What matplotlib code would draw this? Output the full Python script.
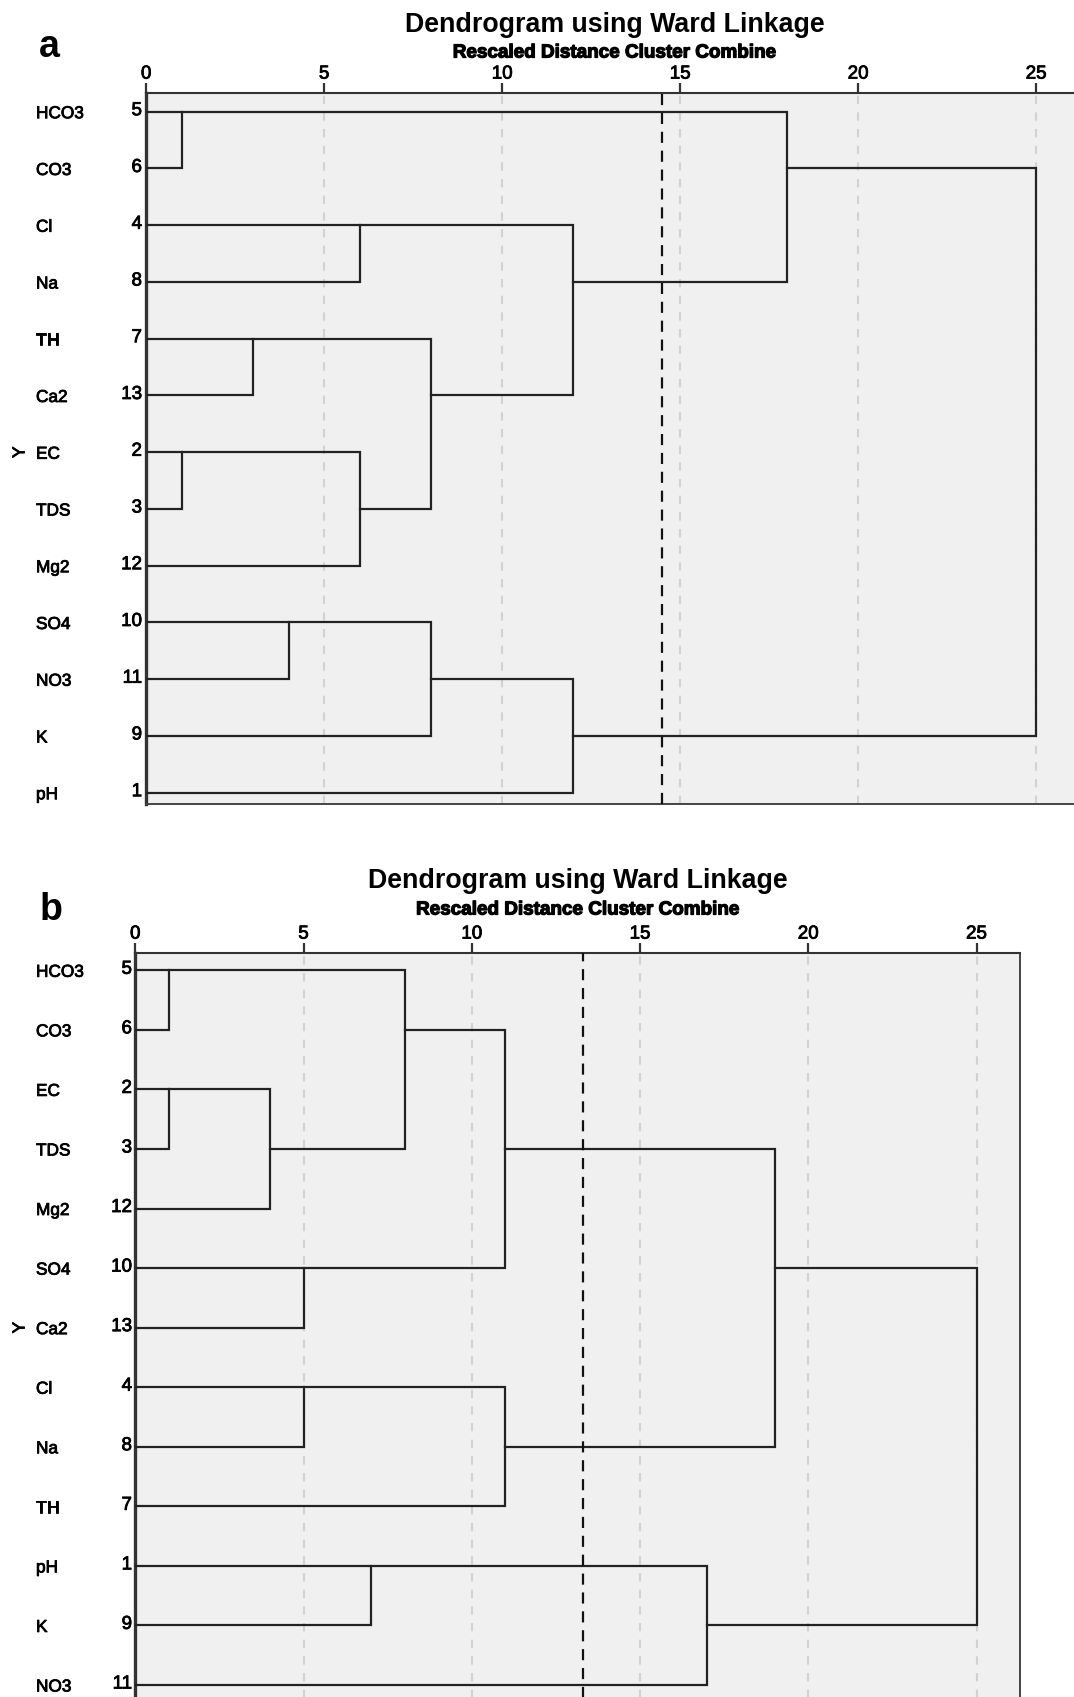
import numpy as np
import matplotlib
matplotlib.use('Agg')
import matplotlib.pyplot as plt
import matplotlib.patheffects as pe

plt.rcParams['font.family'] = ['Liberation Sans', 'DejaVu Sans']

# %% Data
# panel a: leaf order top to bottom, case numbers, merges (child, child, distance)
labels_a = ['HCO3', 'CO3', 'Cl', 'Na', 'TH', 'Ca2', 'EC', 'TDS', 'Mg2', 'SO4', 'NO3', 'K', 'pH']
ids_a = [5, 6, 4, 8, 7, 13, 2, 3, 12, 10, 11, 9, 1]
merges_a = [(0, 1, 1.0), (2, 3, 6.0), (4, 5, 3.0), (6, 7, 1.0), (16, 8, 6.0), (15, 17, 8.0),
            (14, 18, 12.0), (13, 19, 18.0), (9, 10, 4.0), (21, 11, 8.0), (22, 12, 12.0),
            (20, 23, 25.0)]
cut_a = 14.5

# panel b
labels_b = ['HCO3', 'CO3', 'EC', 'TDS', 'Mg2', 'SO4', 'Ca2', 'Cl', 'Na', 'TH', 'pH', 'K', 'NO3']
ids_b = [5, 6, 2, 3, 12, 10, 13, 4, 8, 7, 1, 9, 11]
merges_b = [(0, 1, 1.0), (2, 3, 1.0), (14, 4, 4.0), (13, 15, 8.0), (5, 6, 5.0), (16, 17, 11.0),
            (7, 8, 5.0), (19, 9, 11.0), (18, 20, 19.0), (10, 11, 7.0), (22, 12, 17.0),
            (21, 23, 25.0)]
cut_b = 13.3

ticks = [0, 5, 10, 15, 20, 25]

W, H = 1074, 1697
fig = plt.figure(figsize=(W / 100, H / 100), dpi=100)

# slightly heavier strokes on the regular text, like the scanned SPSS output
thick = [pe.withStroke(linewidth=0.6, foreground='black')]
thick_b = [pe.withStroke(linewidth=0.9, foreground='black')]


def fpos(x, y):
    return x / W, 1 - y / H


def draw_panel(left, top, unit, row_h, xmax, ytop, ybot, labels, ids, merges, cut,
               letter, letter_xy, title_y, sub_y, lab_x, num_x):
    n = len(labels)
    width = xmax * unit
    height = (ybot - ytop) * row_h
    axtop = top
    ax = fig.add_axes([left / W, 1 - (axtop + height) / H, width / W, height / H])
    ax.set_facecolor('#f0f0f0')
    ax.set_xlim(0, xmax)
    ax.set_ylim(ybot, ytop)

    # dashed reference grid
    for t in ticks[1:]:
        ax.axvline(t, color='#d2d2d2', lw=1.5, ls=(0, (4, 4)), zorder=1)

    # dendrogram links, SPSS style placement
    pos = {i: float(i) for i in range(n)}
    hgt = {i: 0.0 for i in range(n)}
    for k, (a, b, h) in enumerate(merges):
        ax.plot([hgt[a], h, h, hgt[b]], [pos[a], pos[a], pos[b], pos[b]],
                color='#222222', lw=1.6, solid_joinstyle='miter', zorder=3)
        pos[n + k] = np.floor((pos[a] + pos[b]) / 2)
        hgt[n + k] = h

    ax.axvline(cut, color='#111111', lw=1.6, ls=(0, (5, 3.5)), zorder=4)

    ax.xaxis.tick_top()
    ax.set_xticks(ticks)
    ax.tick_params(axis='x', direction='out', length=7, width=1.6, color='#333333',
                   labelsize=13.5, pad=0.5)
    for tl in ax.get_xticklabels():
        tl.set_path_effects(thick)
    ax.set_yticks([])
    ax.spines['top'].set_linewidth(1.5)
    ax.spines['top'].set_color('#333333')
    ax.spines['left'].set_linewidth(2.4)
    ax.spines['left'].set_color('#333333')
    ax.spines['right'].set_linewidth(1.4)
    ax.spines['right'].set_color('#444444')
    ax.spines['bottom'].set_linewidth(1.4)
    ax.spines['bottom'].set_color('#444444')

    # row labels and case numbers
    for i, (lab, cid) in enumerate(zip(labels, ids)):
        y = axtop + (i - ytop) * row_h
        fig.text(*fpos(lab_x, y + 2), lab, fontsize=12.4, ha='left', va='center',
                 path_effects=thick)
        fig.text(*fpos(num_x, y - 1), str(cid), fontsize=13.5, ha='right', va='center',
                 path_effects=thick)

    ymid = axtop + (6 - ytop) * row_h
    fig.text(*fpos(20, ymid), 'Y', fontsize=12.5, rotation=90, ha='center', va='center',
             path_effects=thick)

    cx = left + width / 2
    fig.text(*fpos(cx, title_y), 'Dendrogram using Ward Linkage', fontsize=19.3,
             fontweight='bold', ha='center', va='baseline')
    fig.text(*fpos(cx, sub_y), 'Rescaled Distance Cluster Combine', fontsize=13.6,
             fontweight='bold', ha='center', va='baseline', path_effects=thick_b)
    fig.text(*fpos(*letter_xy), letter, fontsize=27, fontweight='bold', ha='left',
             va='baseline')
    return ax


draw_panel(146.2, 93, 35.6, 56.75, 26.3, -0.33, 12.2, labels_a, ids_a, merges_a, cut_a,
           'a', (39, 57), 32.5, 57.5, 36, 142)
draw_panel(135.3, 953, 33.65, 59.56, 26.29, -0.29, 12.25, labels_b, ids_b, merges_b, cut_b,
           'b', (40, 920), 888, 914.5, 36, 132)

plt.savefig('out.png', dpi=100)
